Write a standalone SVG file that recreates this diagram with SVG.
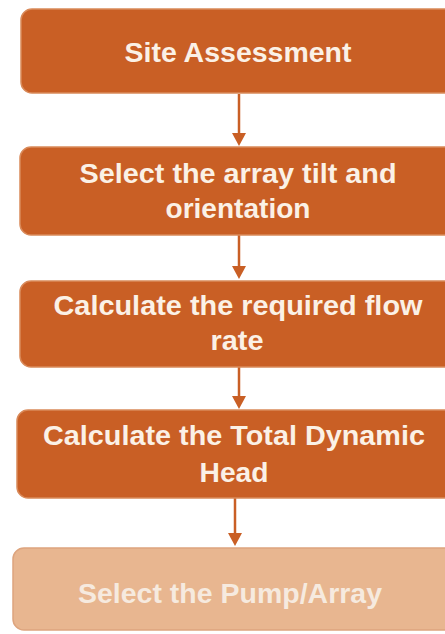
<svg xmlns="http://www.w3.org/2000/svg" width="445" height="634" viewBox="0 0 445 634">
<defs>
<style>
.box{fill:#C95F25;stroke:#D98A5A;stroke-width:1.5}
.box2{fill:#E8B690;stroke:#DDA47E;stroke-width:1.5}
.t{font-family:"Liberation Sans",Arial,sans-serif;font-weight:bold;font-size:27px;fill:#FBF1E6;text-anchor:middle}
.t2{font-family:"Liberation Sans",Arial,sans-serif;font-weight:bold;font-size:27px;fill:#F6EADF;text-anchor:middle}
.c{stroke:#C95F25;stroke-width:2.5;fill:none}
.h{fill:#C95F25}
</style>
</defs>
<rect width="445" height="634" fill="#FFFFFF"/>
<g id="connectors">
<line class="c" x1="239" y1="94" x2="239" y2="134"/>
<path class="h" d="M232,133 L246,133 L239,146 Z"/>
<line class="c" x1="239" y1="235" x2="239" y2="267"/>
<path class="h" d="M232,266 L246,266 L239,279 Z"/>
<line class="c" x1="239" y1="367" x2="239" y2="397"/>
<path class="h" d="M232,396 L246,396 L239,409 Z"/>
<line class="c" x1="235" y1="498" x2="235" y2="534"/>
<path class="h" d="M228,533 L242,533 L235,546 Z"/>
</g>
<g id="node1">
<rect class="box" x="21" y="9" width="440" height="84" rx="11"/>
<text class="t" x="238" y="62" textLength="227" lengthAdjust="spacingAndGlyphs">Site Assessment</text>
</g>
<g id="node2">
<rect class="box" x="20" y="147" width="440" height="88" rx="11"/>
<text class="t" x="238" y="183" textLength="317" lengthAdjust="spacingAndGlyphs">Select the array tilt and</text>
<text class="t" x="238" y="218" textLength="145" lengthAdjust="spacingAndGlyphs">orientation</text>
</g>
<g id="node3">
<rect class="box" x="20" y="281" width="440" height="86" rx="11"/>
<text class="t" x="238" y="315" textLength="369" lengthAdjust="spacingAndGlyphs">Calculate the required flow</text>
<text class="t" x="237" y="350" textLength="53" lengthAdjust="spacingAndGlyphs">rate</text>
</g>
<g id="node4">
<rect class="box" x="17" y="410" width="445" height="88" rx="11"/>
<text class="t" x="234" y="445" textLength="382" lengthAdjust="spacingAndGlyphs">Calculate the Total Dynamic</text>
<text class="t" x="234" y="482" textLength="69" lengthAdjust="spacingAndGlyphs">Head</text>
</g>
<g id="node5">
<rect class="box2" x="13" y="548" width="450" height="82" rx="11"/>
<text class="t2" x="230" y="603" textLength="304" lengthAdjust="spacingAndGlyphs">Select the Pump/Array</text>
</g>
</svg>
